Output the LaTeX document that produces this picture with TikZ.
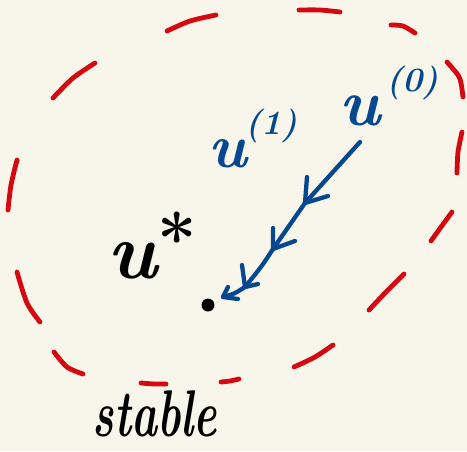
\documentclass[tikz,border=0pt]{standalone}
\usepackage{fontspec}
\usepackage{graphicx}
\definecolor{paper}{RGB}{248,246,235}
\definecolor{penred}{RGB}{212,8,14}
\definecolor{penblue}{RGB}{6,72,144}
\newcommand{\hand}[1]{\bfseries\itshape\fontsize{#1}{#1}\selectfont}
\tikzset{
  dashstroke/.style={draw=penred,line width=4.8pt,line cap=round,line join=round},
  flow/.style={draw=penblue,line width=4.3pt,line cap=round,line join=round},
  lab/.style={inner sep=0pt},
}
\begin{document}
\begin{tikzpicture}[x=1pt,y=-1pt]
\fill[paper] (0,0) rectangle (467,451);
\useasboundingbox (0,0) rectangle (467,451);
% dashed boundary of the stable region
\draw[dashstroke] plot[smooth] coordinates {(167,31) (190,21) (216,15)};
\draw[dashstroke] plot[smooth] coordinates {(299,10) (320,10) (340,12)};
\draw[dashstroke] plot[smooth] coordinates {(391,25) (403,26) (415,33)};
\draw[dashstroke] plot[smooth] coordinates {(447,62) (458,75) (461,83) (463,97)};
\draw[dashstroke] plot[smooth] coordinates {(462,132) (458,152) (457,173)};
\draw[dashstroke] plot[smooth] coordinates {(452,212) (441,227) (431,241)};
\draw[dashstroke] plot[smooth] coordinates {(404,274) (386,292) (369,310)};
\draw[dashstroke] plot[smooth] coordinates {(333,345) (315,357) (294,367)};
\draw[dashstroke] plot[smooth] coordinates {(239,379) (230,381) (221,382)};
\draw[dashstroke] plot[smooth] coordinates {(166,384) (154,384) (141,383)};
\draw[dashstroke] plot[smooth] coordinates {(83,374) (67,367) (54,352)};
\draw[dashstroke] plot[smooth] coordinates {(40,322) (27,303) (17,272)};
\draw[dashstroke] plot[smooth] coordinates {(8,210) (11,185) (17,160)};
\draw[dashstroke] plot[smooth] coordinates {(53,98) (73,78) (95,63)};
% iterates
\coordinate (s0) at (360,142);
\coordinate (s1) at (305,203);
\coordinate (s2) at (273,249);
\coordinate (s3) at (245,287);
\coordinate (s4) at (223,297);
\draw[flow] (s0) -- (s1);
\draw[flow] (s1) -- (s2);
\draw[flow] (s2) .. controls (262,266) .. (s3);
\draw[flow] (s3) .. controls (234,294) .. (s4);
\draw[flow] (s1) ++(2,-26) -- (s1) -- ++(23,-7);
\draw[flow] (s2) ++(0,-21) -- (s2) -- ++(22,-8);
\draw[flow] (s3) ++(-3,-22) -- (s3) -- ++(13,-3);
\draw[flow] (s4) ++(5,-10) -- (s4) -- ++(15,2);
\fill[black] (208,305) circle [radius=6.5] coordinate (ustar);
% labels
\node[lab,text=penblue] (l0) at (389,96) {{\hand{66}u}\hspace{6pt}\raisebox{34pt}{\hand{34}(0)}};
\node[lab,text=penblue] (l1) at (253,138) {{\hand{62}u}\hspace{-2pt}\raisebox{33pt}{\hand{34}(1)}};
\node[lab,text=black] (ls) at (152,246) {{\hand{80}u}\raisebox{14pt}{\bfseries\fontsize{70}{70}\selectfont*}};
\node[lab,text=black] (st) at (155,414) {\scalebox{1}[1.5]{\hand{44}stable}};
\end{tikzpicture}
\end{document}
